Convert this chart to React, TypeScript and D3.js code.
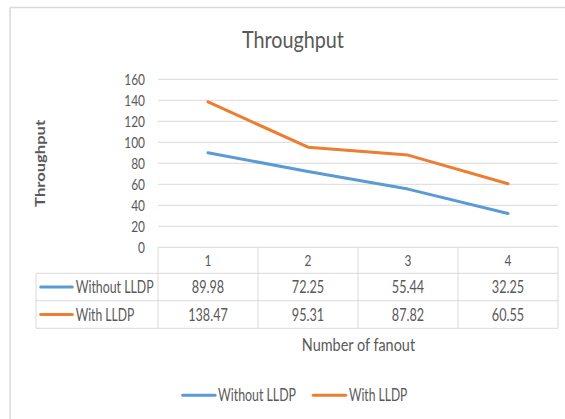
import React from "react";
import * as d3 from "d3";

const categories = ["1", "2", "3", "4"];
const seriesNames = ["Without LLDP", "With LLDP"];
const withoutLLDP = [89.98, 72.25, 55.44, 32.25];
const withLLDP = [138.47, 95.31, 87.82, 60.55];
const yTicks = [0, 20, 40, 60, 80, 100, 120, 140, 160];
const colors = ["#5B9BD5", "#ED7D31"];

const FONT = "Lato, 'Open Sans', sans-serif";
const TXT = "#595959";
const GRID = "#d9d9d9";

// approximate rendered widths (condensed, Calibri-like)
const numWidth = (s: string, d: number, p: number) =>
  s.split("").reduce((a, c) => a + (c === "." ? p : d), 0);

export default function App() {
  const W = 565;
  const H = 419;
  const x = d3.scaleBand<string>().domain(categories).range([158, 558]).padding(0);
  const y = d3.scaleLinear().domain([0, 160]).range([247.3, 79.3]);
  const cx = (c: string) => (x(c) as number) + x.bandwidth() / 2;
  const series = [withoutLLDP, withLLDP];
  const line = d3
    .line<number>()
    .x((_, i) => cx(categories[i]))
    .y((v) => y(v));

  const rowTops = [273.3, 300.7];
  const rowBottom = 328.3;
  const tableLeft = 36;
  const legendText = [
    { lx: 182.7, tx: 218, w: 78 },
    { lx: 313.3, tx: 349, w: 58.3 },
  ];
  const tableLabelW = [78, 58.6];

  return (
    <svg
      width={W}
      height={H}
      style={{ position: "absolute", left: 0, top: 0, background: "#fff" }}
      fontFamily={FONT}
    >
      <rect x={0} y={0} width={W} height={H} fill="#fff" />
      {/* chart frame */}
      <line x1={10} x2={W} y1={7.5} y2={7.5} stroke={GRID} strokeWidth={1.5} />
      <line x1={10} x2={10} y1={7.5} y2={H} stroke={GRID} strokeWidth={1.5} />

      {/* title */}
      <text
        x={292.9}
        y={48.3}
        textAnchor="middle"
        fontSize={23}
        fill={TXT}
        textLength={102}
        lengthAdjust="spacingAndGlyphs"
      >
        Throughput
      </text>

      {/* y axis title */}
      <text
        transform="translate(45,163.4) rotate(-90)"
        textAnchor="middle"
        fontSize={13}
        fontWeight="bold"
        fill={TXT}
        textLength={87}
        lengthAdjust="spacingAndGlyphs"
      >
        Throughput
      </text>

      {/* gridlines + tick labels */}
      {yTicks.map((t) => (
        <g key={t}>
          <line x1={158} x2={558} y1={y(t)} y2={y(t)} stroke={GRID} strokeWidth={1} />
          <text
            x={145}
            y={y(t) + 5.3}
            textAnchor="end"
            fontSize={15}
            fill={TXT}
            textLength={numWidth(String(t), 6.9, 3)}
            lengthAdjust="spacingAndGlyphs"
          >
            {t}
          </text>
        </g>
      ))}

      {/* data table */}
      {[158, 258, 358, 458, 558].map((vx, i) => (
        <line key={"v" + i} x1={vx} x2={vx} y1={247.3} y2={rowBottom} stroke={GRID} strokeWidth={1} />
      ))}
      {[...rowTops, rowBottom].map((ry, i) => (
        <line key={"h" + i} x1={tableLeft} x2={558} y1={ry} y2={ry} stroke={GRID} strokeWidth={1} />
      ))}
      <line x1={tableLeft} x2={tableLeft} y1={rowTops[0]} y2={rowBottom} stroke={GRID} strokeWidth={1} />

      {categories.map((c) => (
        <text
          key={"c" + c}
          x={cx(c)}
          y={266}
          textAnchor="middle"
          fontSize={15}
          fill={TXT}
          textLength={numWidth(c, 6.9, 3)}
          lengthAdjust="spacingAndGlyphs"
        >
          {c}
        </text>
      ))}

      {series.map((vals, si) => {
        const top = rowTops[si];
        const mid = top + (si === 0 ? rowTops[1] - rowTops[0] : rowBottom - rowTops[1]) / 2;
        return (
          <g key={"row" + si}>
            <line
              x1={40.7}
              x2={72.3}
              y1={mid}
              y2={mid}
              stroke={colors[si]}
              strokeWidth={3}
              strokeLinecap="round"
            />
            <text
              x={75.7}
              y={mid + 6}
              fontSize={16.5}
              fill={TXT}
              textLength={tableLabelW[si]}
              lengthAdjust="spacingAndGlyphs"
            >
              {seriesNames[si]}
            </text>
            {vals.map((v, i) => {
              const s = v.toFixed(2);
              return (
                <text
                  key={i}
                  x={cx(categories[i])}
                  y={mid + 6}
                  textAnchor="middle"
                  fontSize={16.5}
                  fill={TXT}
                  textLength={numWidth(s, 7.2, 3.5)}
                  lengthAdjust="spacingAndGlyphs"
                >
                  {s}
                </text>
              );
            })}
          </g>
        );
      })}

      {/* x axis title */}
      <text
        x={358.4}
        y={350.7}
        textAnchor="middle"
        fontSize={17}
        fill={TXT}
        textLength={113.3}
        lengthAdjust="spacingAndGlyphs"
      >
        Number of fanout
      </text>

      {/* series lines */}
      {series.map((vals, si) => (
        <path
          key={"s" + si}
          d={line(vals) as string}
          fill="none"
          stroke={colors[si]}
          strokeWidth={3}
          strokeLinejoin="round"
          strokeLinecap="round"
        />
      ))}

      {/* legend */}
      {seriesNames.map((n, si) => (
        <g key={"lg" + si}>
          <line
            x1={legendText[si].lx}
            x2={legendText[si].lx + 32.4}
            y1={395.3}
            y2={395.3}
            stroke={colors[si]}
            strokeWidth={3}
            strokeLinecap="round"
          />
          <text
            x={legendText[si].tx}
            y={401.3}
            fontSize={17}
            fill={TXT}
            textLength={legendText[si].w}
            lengthAdjust="spacingAndGlyphs"
          >
            {n}
          </text>
        </g>
      ))}
    </svg>
  );
}
